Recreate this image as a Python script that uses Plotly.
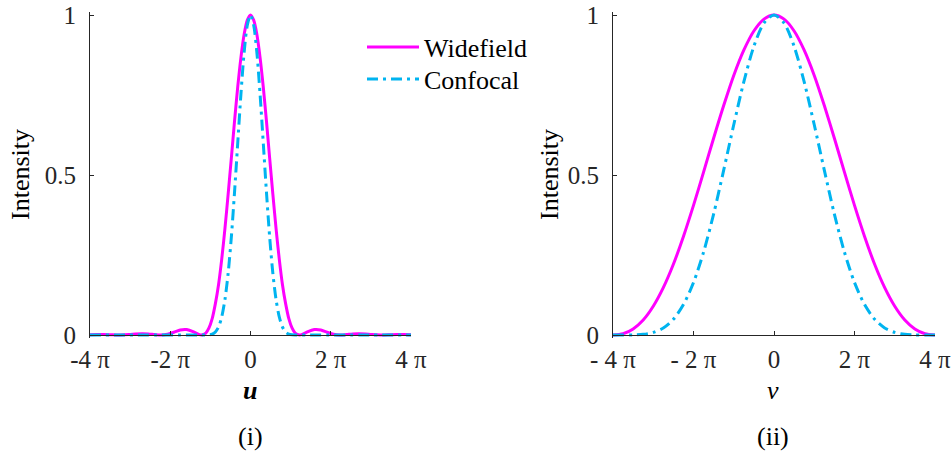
import math
import plotly.graph_objects as go

PI = math.pi

# ---- Panel (i): lateral profile, x in radians (u) ----
u_pos = [0.0, 0.25, 0.5, 0.75, 1.0, 1.25, 1.5, 1.75, 2.0, 2.25, 2.5, 2.75, 3.0, 3.25, 3.5, 3.83,
         4.0, 4.5, 5.0, 5.14, 5.5, 6.0, 6.5, 7.02, 7.5, 8.0, 8.5, 9.0, 9.5, 10.17, 10.5, 11.0,
         11.5, 12.0, 12.57]
wide_i_pos = [1.0, 0.984, 0.939, 0.867, 0.775, 0.668, 0.553, 0.440, 0.333, 0.238, 0.158, 0.098,
              0.051, 0.022, 0.006, 0.0, 0.001, 0.0106, 0.0172, 0.0175, 0.0154, 0.0085, 0.0022, 0.0,
              0.0013, 0.0034, 0.0041, 0.0030, 0.0012, 0.0, 0.0002, 0.0010, 0.0016, 0.0014, 0.0006]
conf_i_pos = [1.0, 0.968, 0.882, 0.752, 0.600, 0.446, 0.306, 0.193, 0.111, 0.057, 0.025, 0.0096,
              0.0026, 0.0005, 0.0, 0.0, 0.0, 0.0001, 0.0003, 0.0003, 0.0002, 0.0001, 0.0, 0.0,
              0.0, 0.0, 0.0, 0.0, 0.0, 0.0, 0.0, 0.0, 0.0, 0.0, 0.0]

# ---- Panel (ii): axial profile, v in multiples of pi/4 ----
v_pos_quarters = [0, 1, 2, 3, 4, 5, 6, 7, 8, 9, 10, 11, 12, 13, 14, 15, 16]
wide_ii_pos = [1.0, 0.987, 0.950, 0.890, 0.811, 0.717, 0.615, 0.509, 0.405, 0.308, 0.221,
               0.148, 0.090, 0.047, 0.019, 0.004, 0.0]
conf_ii_pos = [1.0, 0.975, 0.902, 0.791, 0.657, 0.515, 0.378, 0.259, 0.164, 0.095, 0.049,
               0.022, 0.008, 0.002, 0.0004, 0.0, 0.0]

tick_vals = [-4, -2, 0, 2, 4]
tick_text_i = ["-4 \u03c0", "-2 \u03c0", "0", "2 \u03c0", "4 \u03c0"]
tick_text_ii = ["- 4 \u03c0", "- 2 \u03c0", "0", "2 \u03c0", "4 \u03c0"]
ytick_vals = [0, 0.5, 1]
ytick_text = ["0", "0.5", "1"]

# mirror to full symmetric curves
def mirror(xs, ys):
    return [-x for x in xs[:0:-1]] + list(xs), list(ys[:0:-1]) + list(ys)

u_full, wide_i = mirror(u_pos, wide_i_pos)
_, conf_i = mirror(u_pos, conf_i_pos)
v_full_q, wide_ii = mirror(v_pos_quarters, wide_ii_pos)
_, conf_ii = mirror(v_pos_quarters, conf_ii_pos)
v_full = [q * PI / 4 for q in v_full_q]

MAG = "#FF00FF"
CYA = "#00B4F0"
AX = "#262626"
FONT = "Liberation Serif, Times New Roman, Times, serif"
DASH = "11px,5px,3px,5px"
TICK_SIZE = 25
LAB_SIZE = 26

fig = go.Figure()
fig.add_trace(go.Scatter(x=u_full, y=wide_i, mode="lines", name="Widefield", legend="legend",
                         line=dict(color=MAG, width=3, shape="spline", smoothing=0.8),
                         xaxis="x", yaxis="y"))
fig.add_trace(go.Scatter(x=u_full, y=conf_i, mode="lines", name="Confocal", legend="legend2",
                         line=dict(color=CYA, width=3, dash=DASH, shape="spline", smoothing=0.8),
                         xaxis="x", yaxis="y"))
fig.add_trace(go.Scatter(x=v_full, y=wide_ii, mode="lines", name="Widefield", showlegend=False,
                         line=dict(color=MAG, width=3, shape="spline", smoothing=0.8),
                         xaxis="x2", yaxis="y2"))
fig.add_trace(go.Scatter(x=v_full, y=conf_ii, mode="lines", name="Confocal", showlegend=False,
                         line=dict(color=CYA, width=3, dash=DASH, shape="spline", smoothing=0.8),
                         xaxis="x2", yaxis="y2"))

W, H = 952, 452
y0_px, y1_px = 335, 15
pad = 0.01
unit = (y0_px - y1_px)
ydom = [1 - (y0_px + pad * unit) / H, 1 - (y1_px - pad * unit) / H]
xpos = 1 - y0_px / H

common_x = dict(range=[-4 * PI, 4 * PI], showline=True, linecolor=AX, linewidth=1,
                ticks="inside", ticklen=4, tickcolor=AX, showgrid=False, zeroline=False,
                tickfont=dict(family=FONT, size=TICK_SIZE, color=AX), anchor="free",
                position=xpos, automargin=False, ticklabelstandoff=2)
common_y = dict(range=[-pad, 1 + pad], showline=True, linecolor=AX, linewidth=1,
                ticks="inside", ticklen=4, tickcolor=AX, showgrid=False, zeroline=False,
                tickvals=ytick_vals, ticktext=ytick_text, automargin=False,
                tickfont=dict(family=FONT, size=TICK_SIZE, color=AX), domain=ydom,
                ticklabelstandoff=8)

leg_common = dict(xanchor="left", yanchor="middle", bgcolor="rgba(0,0,0,0)",
                  font=dict(family=FONT, size=LAB_SIZE, color="black"), itemwidth=52)

fig.update_layout(
    width=W, height=H, margin=dict(l=0, r=0, t=0, b=0, autoexpand=False),
    paper_bgcolor="white", plot_bgcolor="white",
    font=dict(family=FONT),
    xaxis=dict(common_x, domain=[90 / W, 411 / W],
               tickvals=[t * PI for t in tick_vals], ticktext=tick_text_i),
    yaxis=dict(common_y, anchor="x"),
    xaxis2=dict(common_x, domain=[613 / W, 935 / W],
                tickvals=[t * PI for t in tick_vals], ticktext=tick_text_ii),
    yaxis2=dict(common_y, anchor="x2"),
    legend=dict(leg_common, x=362 / W, y=1 - 47 / H),
    legend2=dict(leg_common, x=362 / W, y=1 - 79 / H),
    showlegend=True,
)

annots = [
    dict(text="Intensity", x=20 / W, y=1 - 175 / H, textangle=-90),
    dict(text="Intensity", x=549 / W, y=1 - 175 / H, textangle=-90),
    dict(text="<b><i>u</i></b>", x=250 / W, y=1 - 390 / H),
    dict(text="<i>v</i>", x=773 / W, y=1 - 390 / H),
    dict(text="(i)", x=250 / W, y=1 - 436 / H),
    dict(text="(ii)", x=773 / W, y=1 - 436 / H),
]
for a in annots:
    fig.add_annotation(xref="paper", yref="paper", showarrow=False,
                       xanchor="center", yanchor="middle",
                       font=dict(family=FONT, size=LAB_SIZE, color="black"), **a)

fig.write_html("out.html")
